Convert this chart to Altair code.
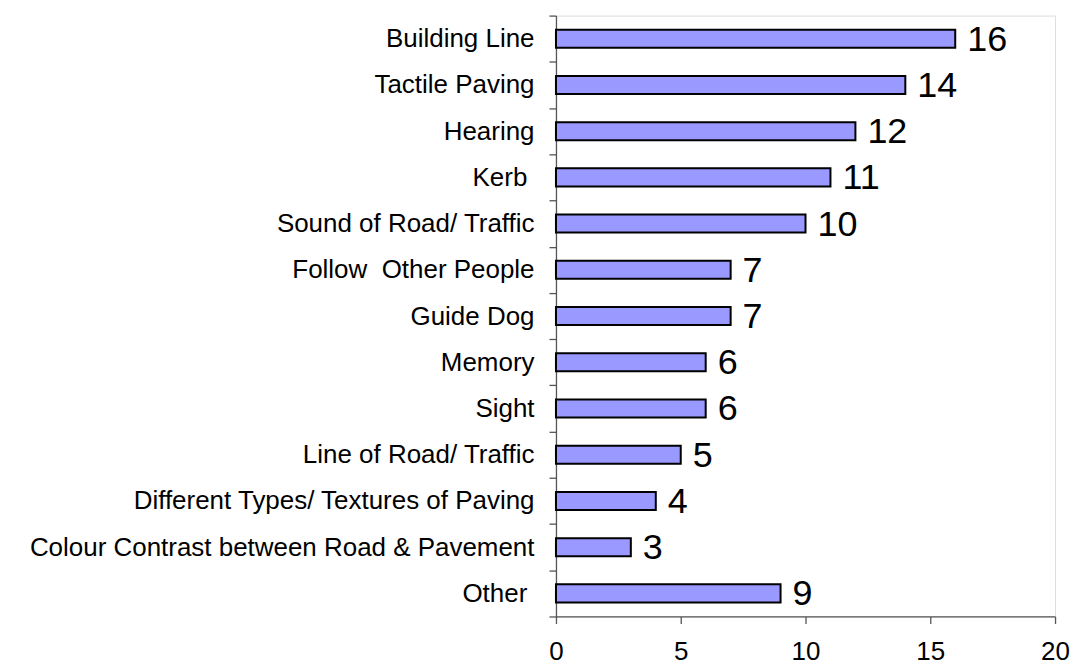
import altair as alt
import pandas as pd

categories = [
    "Building Line",
    "Tactile Paving",
    "Hearing",
    "Kerb\u00a0\u200b",
    "Sound of Road/ Traffic",
    "Follow\u00a0 Other People",
    "Guide Dog",
    "Memory",
    "Sight",
    "Line of Road/ Traffic",
    "Different Types/ Textures of Paving",
    "Colour Contrast between Road & Pavement",
    "Other\u00a0\u200b",
]
values = [16, 14, 12, 11, 10, 7, 7, 6, 6, 5, 4, 3, 9]
x_ticks = [0, 5, 10, 15, 20]

df = pd.DataFrame({"category": categories, "value": values})

FONT = "Liberation Sans"
AXIS_COLOR = "#555555"

y_enc = alt.Y(
    "category:N",
    sort=categories,
    title=None,
    scale=alt.Scale(paddingInner=0, paddingOuter=0),
    axis=alt.Axis(
        tickBand="extent",
        labelFont=FONT,
        labelFontSize=26,
        labelColor="black",
        labelPadding=15,
        labelLimit=700,
        tickSize=7,
        tickColor=AXIS_COLOR,
        tickWidth=1.3,
        domainColor=AXIS_COLOR,
        domainWidth=1.3,
        grid=False,
    ),
)

x_enc = alt.X(
    "value:Q",
    title=None,
    scale=alt.Scale(domain=[0, 20], nice=False),
    axis=alt.Axis(
        values=x_ticks,
        labelFont=FONT,
        labelFontSize=26,
        labelColor="black",
        labelPadding=15,
        tickSize=7,
        tickColor=AXIS_COLOR,
        tickWidth=1.3,
        domainColor=AXIS_COLOR,
        domainWidth=1.3,
        grid=False,
        labelFlush=False,
    ),
)

bars = alt.Chart(df).mark_bar(
    height={"band": 0.39},
    fill="#9999FF",
    stroke="black",
    strokeWidth=2,
).encode(x=x_enc, y=y_enc)

labels = alt.Chart(df).mark_text(
    align="left",
    baseline="middle",
    dx=12,
    dy=1,
    font=FONT,
    fontSize=36,
    color="black",
).encode(x="value:Q", y=alt.Y("category:N", sort=categories), text="value:Q")

chart = (
    alt.layer(bars, labels)
    .properties(
        width=500,
        height=602,
        autosize=alt.AutoSizeParams(type="none"),
        padding={"left": 549, "top": 7, "right": 20, "bottom": 49},
    )
    .configure_view(stroke=None)
    .configure(background="white")
)

chart.save("out.html", embed_options={"renderer": "svg", "actions": False})
